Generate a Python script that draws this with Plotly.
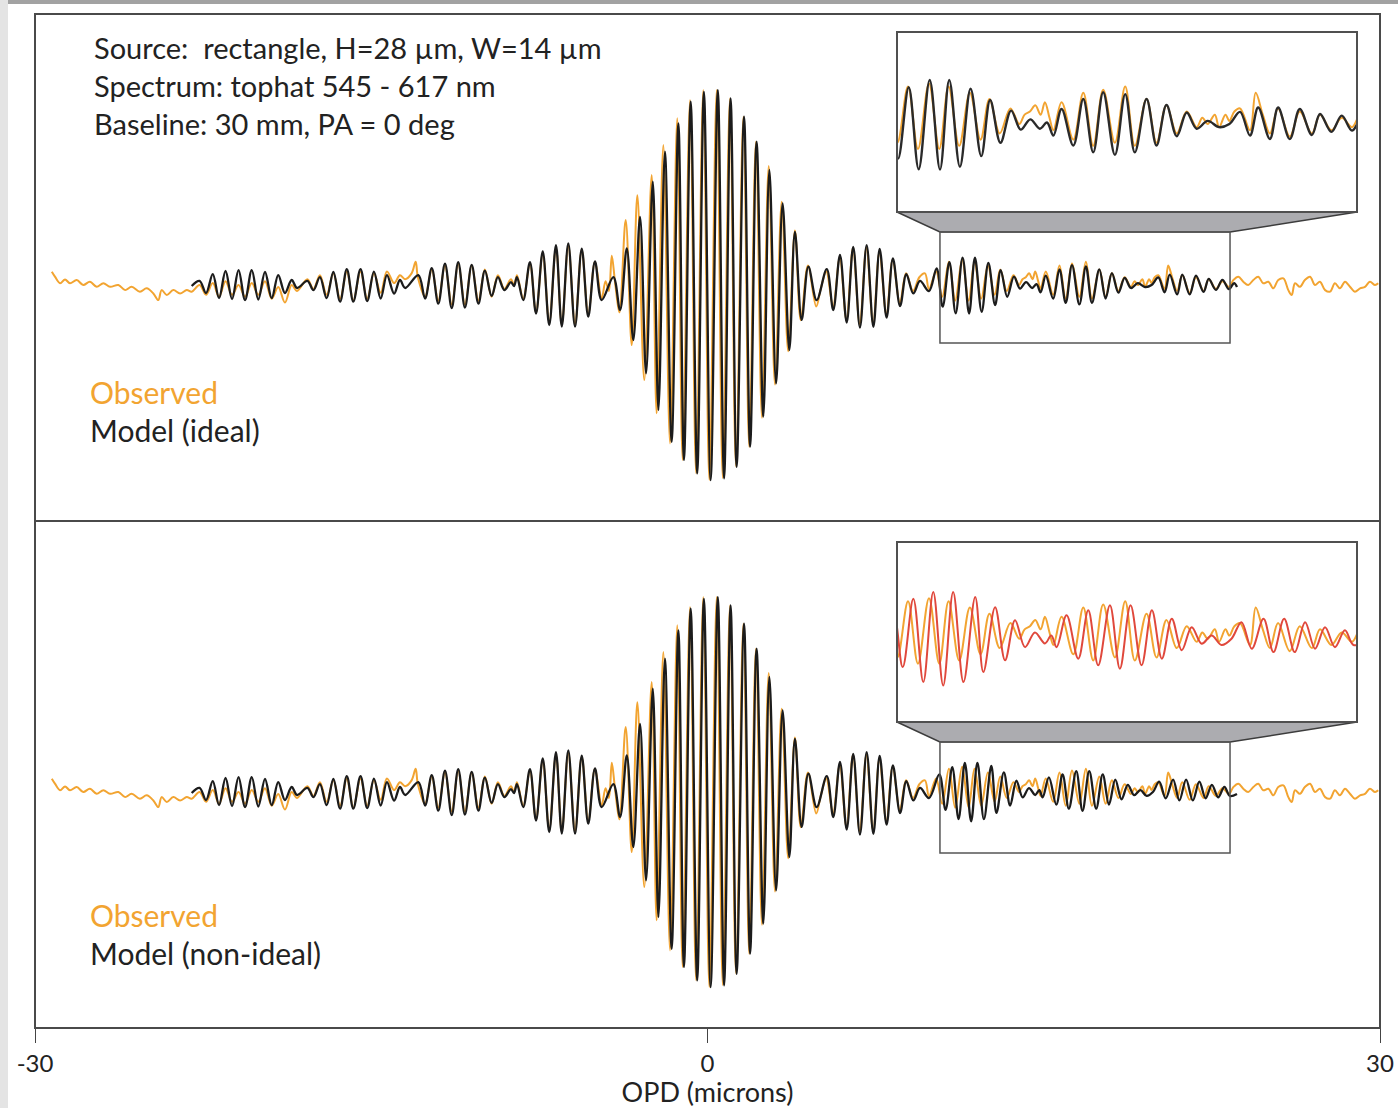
import plotly.graph_objects as go

# ---------------- data ----------------
# OPD in microns, fringe signal in arbitrary units (central fringe = 1)
model_ideal_pts = [
    # far-left lobe
    (-23.01, -0.005), (-22.66, 0.021), (-22.37, -0.041), (-22.07, 0.056), (-21.79, -0.067),
    (-21.50, 0.072), (-21.21, -0.072), (-20.92, 0.077), (-20.63, -0.077), (-20.33, 0.077),
    (-20.04, -0.074), (-19.74, 0.067), (-19.44, -0.067), (-19.15, 0.051), (-18.85, -0.041),
    (-18.55, 0.026), (-18.31, -0.015),
    # lobe
    (-17.85, 0.021), (-17.58, -0.026), (-17.29, 0.041), (-16.99, -0.067), (-16.69, 0.067),
    (-16.39, -0.085), (-16.09, 0.082), (-15.80, -0.085), (-15.48, 0.082), (-15.18, -0.082),
    (-14.88, 0.069), (-14.58, -0.069), (-14.30, 0.051), (-13.98, -0.044), (-13.72, 0.026),
    (-13.49, -0.015),
    # lobe
    (-12.90, 0.051), (-12.60, -0.069), (-12.30, 0.087), (-12.01, -0.095), (-11.71, 0.110),
    (-11.41, -0.118), (-11.12, 0.118), (-10.82, -0.115), (-10.52, 0.103), (-10.22, -0.095),
    (-9.93, 0.074), (-9.63, -0.056), (-9.35, 0.041), (-9.06, -0.026), (-8.77, 0.015),
    (-8.63, -0.005),
    # first left side lobe
    (-8.50, 0.041), (-8.22, -0.077), (-7.92, 0.118), (-7.65, -0.146), (-7.35, 0.172),
    (-7.06, -0.205), (-6.76, 0.205), (-6.50, -0.213), (-6.21, 0.213), (-5.91, -0.213),
    (-5.61, 0.187), (-5.32, -0.162), (-5.02, 0.121), (-4.72, -0.077), (-4.20, 0.041),
    # central lobe
    (-3.90, -0.128), (-3.60, 0.188), (-3.31, -0.282), (-3.01, 0.350), (-2.74, -0.453),
    (-2.44, 0.530), (-2.19, -0.641), (-1.90, 0.684), (-1.60, -0.804), (-1.30, 0.829),
    (-1.05, -0.897), (-0.75, 0.940), (-0.46, -0.966), (-0.16, 0.991), (0.14, -1.000),
    (0.46, 1.000), (0.74, -0.991), (1.03, 0.957), (1.30, -0.932), (1.63, 0.863),
    (1.90, -0.829), (2.19, 0.735), (2.49, -0.675), (2.76, 0.590), (3.06, -0.504),
    (3.35, 0.419), (3.65, -0.333), (3.90, 0.273), (4.20, -0.179), (4.50, 0.094),
    # first right side lobe
    (4.87, -0.077), (5.32, 0.082), (5.61, -0.128), (5.91, 0.154), (6.21, -0.192),
    (6.50, 0.196), (6.80, -0.218), (7.10, 0.205), (7.40, -0.214), (7.68, 0.185),
    (7.99, -0.167), (8.27, 0.137), (8.59, -0.108), (8.87, 0.056), (9.18, -0.043),
    (9.48, 0.021), (9.88, -0.031),
    # lobe
    (10.22, 0.086), (10.49, -0.111), (10.79, 0.118), (11.07, -0.145), (11.38, 0.141),
    (11.67, -0.146), (11.93, 0.141), (12.23, -0.137), (12.53, 0.113), (12.83, -0.103),
    (13.08, 0.077), (13.37, -0.060), (13.67, 0.043), (13.94, -0.018),
    (14.21, 0.015), (14.48, -0.015), (14.68, 0.005),
    # lobe
    (14.86, -0.037), (15.09, 0.048), (15.42, -0.069), (15.70, 0.080), (15.98, -0.091),
    (16.26, 0.102), (16.59, -0.099), (16.88, 0.096), (17.15, -0.091), (17.48, 0.080),
    (17.76, -0.069), (18.04, 0.061), (18.33, -0.039), (18.61, 0.037),
    (18.89, -0.015), (19.20, 0.010), (19.52, -0.010), (19.81, 0.000),
    # far-right lobe
    (20.11, 0.039), (20.39, -0.037), (20.62, 0.053), (20.95, -0.048), (21.18, 0.053),
    (21.51, -0.048), (21.79, 0.048), (22.13, -0.035), (22.36, 0.032), (22.68, -0.025),
    (22.97, 0.027), (23.26, -0.021), (23.49, 0.010), (23.62, -0.010),
]

# non-ideal model: follows the ideal one up to ~10 microns, then this
model_nonideal_tail_pts = [
    (10.34, 0.090), (10.62, -0.091), (10.92, 0.128), (11.20, -0.139), (11.48, 0.150),
    (11.76, -0.150), (12.04, 0.150), (12.33, -0.139), (12.66, 0.134), (12.89, -0.107),
    (13.22, 0.101), (13.50, -0.069), (13.78, 0.059), (14.06, -0.027), (14.34, 0.020),
    (14.62, -0.015), (14.80, 0.010), (14.95, -0.027),
    (15.23, 0.075), (15.56, -0.064), (15.84, 0.091), (16.12, -0.085), (16.45, 0.107),
    (16.73, -0.096), (17.03, 0.107), (17.34, -0.085), (17.63, 0.091), (17.91, -0.064),
    (18.19, 0.064), (18.47, -0.037), (18.75, 0.037), (19.03, -0.016),
    (19.31, 0.010), (19.59, -0.020), (19.87, 0.000),
    (20.15, 0.053), (20.44, -0.032), (20.77, 0.064), (21.05, -0.043), (21.35, 0.064),
    (21.65, -0.043), (21.94, 0.053), (22.22, -0.032), (22.50, 0.037), (22.78, -0.027),
    (23.06, 0.027), (23.30, -0.020), (23.62, -0.010),
]
nonideal_switch_opd = 10.0

observed_pts = [
    # left wing (noise)
    (-29.25, 0.068), (-29.11, 0.043), (-28.88, 0.009), (-28.66, 0.029), (-28.44, 0.009),
    (-28.14, 0.026), (-27.85, 0.000), (-27.55, 0.017), (-27.25, -0.009), (-26.95, 0.009),
    (-26.65, -0.009), (-26.28, 0.000), (-25.98, -0.026), (-25.69, -0.009), (-25.32, -0.034),
    (-25.02, -0.017), (-24.72, -0.043), (-24.50, -0.077), (-24.35, -0.026), (-24.12, -0.051),
    (-23.83, -0.026), (-23.53, -0.043), (-23.23, -0.026), (-23.01, -0.034),
    # far-left lobe
    (-22.66, 0.000), (-22.37, -0.050), (-22.07, 0.010), (-21.79, -0.060), (-21.50, 0.020),
    (-21.21, -0.050), (-20.92, 0.000), (-20.63, -0.060), (-20.33, 0.010), (-20.04, -0.050),
    (-19.74, 0.020), (-19.44, -0.070), (-19.15, -0.010), (-18.85, -0.090), (-18.55, 0.000),
    (-18.31, -0.030),
    (-17.85, 0.030), (-17.58, -0.020), (-17.29, 0.050), (-16.99, -0.050), (-16.69, 0.060),
    (-16.39, -0.070), (-16.09, 0.070), (-15.80, -0.080), (-15.48, 0.070), (-15.18, -0.070),
    (-14.88, 0.060), (-14.58, -0.040), (-14.30, 0.070), (-13.98, 0.010), (-13.72, 0.050),
    (-13.49, 0.030), (-13.20, 0.060), (-13.02, 0.120), (-12.92, 0.040),
    (-12.60, -0.060), (-12.30, 0.080), (-12.01, -0.080), (-11.71, 0.100), (-11.41, -0.100),
    (-11.12, 0.110), (-10.82, -0.100), (-10.52, 0.100), (-10.22, -0.080), (-9.93, 0.080),
    (-9.63, -0.060), (-9.35, 0.050), (-9.06, -0.020), (-8.77, 0.030), (-8.63, 0.000),
    (-8.50, 0.050),
    (-8.22, -0.070), (-7.92, 0.110), (-7.65, -0.140), (-7.35, 0.160), (-7.06, -0.190),
    (-6.76, 0.190), (-6.50, -0.200), (-6.21, 0.200), (-5.91, -0.200), (-5.61, 0.180),
    (-5.32, -0.150), (-5.02, 0.120), (-4.72, -0.070), (-4.55, 0.020), (-4.40, -0.030),
    (-4.27, 0.150), (-4.12, 0.010), (-3.93, -0.140),
    # central lobe
    (-3.65, 0.333), (-3.38, -0.308), (-3.13, 0.460), (-2.82, -0.487), (-2.49, 0.564),
    (-2.27, -0.658), (-1.97, 0.718), (-1.67, -0.812), (-1.35, 0.855), (-1.11, -0.897),
    (-0.78, 0.949), (-0.51, -0.966), (-0.19, 1.000), (0.08, -1.000), (0.41, 1.000),
    (0.68, -0.990), (1.00, 0.957), (1.27, -0.930), (1.60, 0.863), (1.86, -0.830),
    (2.16, 0.735), (2.43, -0.680), (2.73, 0.610), (3.01, -0.510), (3.31, 0.427),
    (3.60, -0.340), (3.90, 0.280), (4.16, -0.180), (4.48, 0.100),
    # right lobes
    (4.85, -0.110), (5.05, -0.020), (5.30, 0.070), (5.60, -0.110), (5.90, 0.140),
    (6.20, -0.180), (6.49, 0.190), (6.79, -0.200), (7.09, 0.190), (7.39, -0.200),
    (7.67, 0.170), (7.98, -0.150), (8.26, 0.130), (8.58, -0.090), (8.86, 0.060),
    (9.17, -0.030), (9.45, 0.040), (9.70, 0.060), (9.88, -0.020),
    (10.20, 0.070), (10.47, -0.060), (10.77, 0.120), (11.05, -0.080), (11.36, 0.130),
    (11.65, -0.080), (11.91, 0.120), (12.21, -0.070), (12.51, 0.100), (12.81, -0.050),
    (13.06, 0.080), (13.35, -0.030), (13.65, 0.050), (13.90, 0.000), (14.05, 0.030),
    (14.20, 0.040), (14.35, 0.060), (14.50, 0.030), (14.62, 0.070), (14.75, 0.020),
    (14.86, -0.020),
    (15.09, 0.070), (15.42, -0.050), (15.70, 0.100), (15.98, -0.070), (16.26, 0.110),
    (16.59, -0.060), (16.88, 0.120), (17.15, -0.070), (17.48, 0.080), (17.76, -0.060),
    (18.04, 0.060), (18.33, -0.030), (18.61, 0.040),
    (18.89, -0.010), (19.05, 0.020), (19.20, 0.000), (19.40, 0.030), (19.52, -0.010),
    (19.70, 0.030), (19.81, 0.010), (19.95, 0.040),
    (20.11, 0.050), (20.39, -0.020), (20.55, 0.100), (20.75, 0.030), (20.95, -0.030),
    (21.18, 0.050), (21.51, -0.040), (21.79, 0.040), (22.13, -0.030), (22.36, 0.030),
    (22.68, -0.020), (22.97, 0.020), (23.26, -0.010),
    # right wing (noise)
    (23.46, 0.026), (23.68, 0.043), (23.90, 0.017), (24.12, 0.000), (24.35, 0.026),
    (24.57, 0.043), (24.79, 0.009), (25.02, 0.017), (25.24, -0.017), (25.46, 0.026),
    (25.69, 0.034), (25.91, -0.026), (26.06, -0.051), (26.21, 0.009), (26.43, -0.009),
    (26.65, 0.026), (26.88, 0.043), (27.10, 0.000), (27.32, 0.017), (27.55, -0.026),
    (27.77, -0.034), (27.99, 0.009), (28.21, -0.017), (28.44, 0.017), (28.66, -0.009),
    (28.88, -0.034), (29.11, -0.017), (29.33, -0.009), (29.55, 0.017), (29.78, 0.000),
    (29.92, 0.009),
]

x_ticks = [-30, 0, 30]
x_tick_labels = ["-30", "0", "30"]
x_title = "OPD (microns)"
info_lines = ["Source:\u00a0 rectangle, H=28 \u00b5m, W=14 \u00b5m",
              "Spectrum: tophat 545 - 617 nm",
              "Baseline: 30 mm, PA = 0 deg"]
legend_top = ["Observed", "Model (ideal)"]
legend_bottom = ["Observed", "Model (non-ideal)"]
zoom_window = [10.37, 23.31]        # OPD span of the small boxes
inset_range = [10.46, 23.40]

# ---------------- build series ----------------
m_x = [p[0] for p in model_ideal_pts]
m_y = [p[1] for p in model_ideal_pts]
n_pts = [p for p in model_ideal_pts if p[0] < nonideal_switch_opd] + model_nonideal_tail_pts
n_x = [p[0] for p in n_pts]
n_y = [p[1] for p in n_pts]
o_x = [p[0] for p in observed_pts]
o_y = [p[1] for p in observed_pts]

ORANGE = "#f2a431"
BLACK = "#1c1c1c"
RED = "#e0483c"
FRAME = "#4a4a4a"

FIG_W, FIG_H = 1398, 1108
PL, PR, PT, PB = 35, 1380, 14, 1028


def fx(x):
    return (x - PL) / (PR - PL)


def fy(y):
    return (PB - y) / (PB - PT)


fig = go.Figure()


def add_line(x, y, color, width, xa, ya):
    fig.add_trace(go.Scatter(x=x, y=y, mode="lines", xaxis=xa, yaxis=ya,
                             line=dict(color=color, width=width, shape="spline", smoothing=1.0),
                             hoverinfo="skip", showlegend=False))


# main panels
add_line(o_x, o_y, ORANGE, 2.0, "x", "y")
add_line(m_x, m_y, BLACK, 2.3, "x", "y")
add_line(o_x, o_y, ORANGE, 2.0, "x2", "y2")
add_line(n_x, n_y, BLACK, 2.3, "x2", "y2")
# insets
add_line(o_x, o_y, ORANGE, 2.0, "x3", "y3")
add_line(m_x, m_y, "#2a2a2a", 2.4, "x3", "y3")
add_line(o_x, o_y, ORANGE, 2.0, "x4", "y4")
add_line(n_x, n_y, RED, 2.0, "x4", "y4")

main_yr = [-1.21, 1.39]
hidden = dict(showgrid=False, zeroline=False, showticklabels=False, ticks="", showline=False)

fig.update_layout(
    width=FIG_W, height=FIG_H,
    margin=dict(l=PL, r=FIG_W - PR, t=PT, b=FIG_H - PB, autoexpand=False),
    paper_bgcolor="white", plot_bgcolor="rgba(0,0,0,0)",
    font=dict(family="Lato, Open Sans, sans-serif", color="#222222"),
    xaxis=dict(domain=[0, 1], range=[-30, 30], anchor="y", **hidden),
    yaxis=dict(domain=[0.5, 1], range=main_yr, anchor="x", **hidden),
    xaxis2=dict(domain=[0, 1], range=[-30, 30], anchor="y2", showgrid=False, zeroline=False,
                showline=False, ticks="outside", ticklen=14, tickwidth=1.2, tickcolor="#444",
                tickvals=x_ticks, ticktext=x_tick_labels,
                tickfont=dict(size=24, color="#222"),
                title=dict(text=x_title, font=dict(size=27, color="#222"), standoff=10)),
    yaxis2=dict(domain=[0, 0.5], range=main_yr, anchor="x2", **hidden),
    xaxis3=dict(domain=[fx(897), fx(1357)], range=inset_range, anchor="y3", **hidden),
    yaxis3=dict(domain=[fy(212), fy(32)], range=[-0.282, 0.295], anchor="x3", **hidden),
    xaxis4=dict(domain=[fx(897), fx(1357)], range=inset_range, anchor="y4", **hidden),
    yaxis4=dict(domain=[fy(722), fy(542)], range=[-0.267, 0.310], anchor="x4", **hidden),
)

shapes = []
# photo border strips
shapes.append(dict(type="rect", xref="paper", yref="paper", x0=fx(0), x1=fx(FIG_W),
                   y0=fy(0), y1=fy(4), fillcolor="#a2a2a2", line=dict(width=0), layer="below"))
shapes.append(dict(type="rect", xref="paper", yref="paper", x0=fx(0), x1=fx(8),
                   y0=fy(0), y1=fy(FIG_H), fillcolor="#e4e4e4", line=dict(width=0), layer="below"))
# panel frames
for top, bot in [(14, 521), (521, 1028)]:
    shapes.append(dict(type="rect", xref="paper", yref="paper", x0=fx(PL), x1=fx(PR),
                       y0=fy(bot), y1=fy(top), line=dict(color=FRAME, width=2)))

# zoom boxes, trapezoids, insets
for (ins_top, ins_bot, box_top, box_bot) in [(32, 212, 232, 343), (542, 722, 742, 853)]:
    path = "M {a},{b} L {c},{b} L {d},{e} L {f},{e} Z".format(
        a=fx(897), b=fy(ins_bot), c=fx(1357), d=fx(1230), e=fy(box_top), f=fx(940))
    shapes.append(dict(type="path", xref="paper", yref="paper", path=path,
                       fillcolor="#acacb0", line=dict(color="#3c3c3c", width=1.5)))
    shapes.append(dict(type="rect", xref="x", yref="paper", x0=zoom_window[0], x1=zoom_window[1],
                       y0=fy(box_bot), y1=fy(box_top), line=dict(color="#555555", width=1.5)))
    shapes.append(dict(type="rect", xref="paper", yref="paper", x0=fx(897), x1=fx(1357),
                       y0=fy(ins_bot), y1=fy(ins_top), line=dict(color="#505050", width=2)))
fig.update_layout(shapes=shapes)

ann = []
for i, t in enumerate(info_lines):
    ann.append(dict(text=t, xref="paper", yref="paper", x=fx(92), y=fy(47 + 38 * i),
                    xanchor="left", yanchor="middle", showarrow=False,
                    font=dict(size=29, color="#222")))
for (labels, y0) in [(legend_top, 392), (legend_bottom, 915)]:
    ann.append(dict(text=labels[0], xref="paper", yref="paper", x=fx(88), y=fy(y0),
                    xanchor="left", yanchor="middle", showarrow=False,
                    font=dict(size=30, color=ORANGE)))
    ann.append(dict(text=labels[1], xref="paper", yref="paper", x=fx(88), y=fy(y0 + 38),
                    xanchor="left", yanchor="middle", showarrow=False,
                    font=dict(size=30, color="#222")))
fig.update_layout(annotations=ann)

fig.write_html("out.html")
